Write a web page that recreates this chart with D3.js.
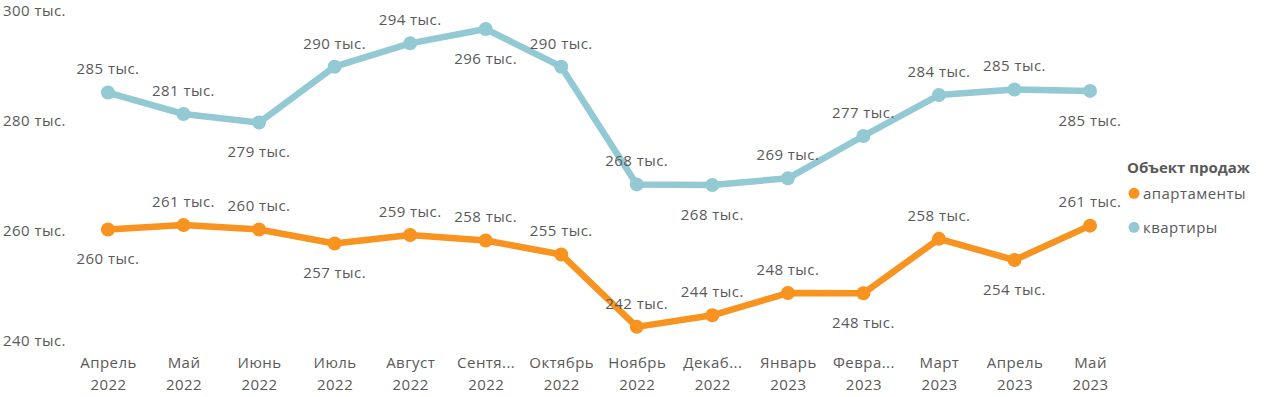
<!DOCTYPE html>
<html><head><meta charset="utf-8">
<script src="https://cdn.jsdelivr.net/npm/d3@7"></script>
<style>
html,body{margin:0;padding:0;background:#fff;}
svg{display:block;font-family:"Segoe UI","Open Sans","Noto Sans",sans-serif;}
</style></head>
<body><svg id="chart" width="1283" height="397"></svg>
<script>
const months = ["Апрель","Май","Июнь","Июль","Август","Сентя...","Октябрь","Ноябрь","Декаб...","Январь","Февра...","Март","Апрель","Май"];
const years = ["2022","2022","2022","2022","2022","2022","2022","2022","2022","2023","2023","2023","2023","2023"];
const apartmentsValues = [260.0,260.8,260.0,257.45,259.0,258.0,255.45,242.3,244.4,248.45,248.4,258.3,254.45,260.7];
const flatsValues = [284.9,281.0,279.45,289.6,293.85,296.45,289.6,268.2,268.1,269.3,277.0,284.45,285.45,285.2];
// label position: 1 = above, -1 = below
const apartmentsLabelPos = [-1,1,1,-1,1,1,1,1,1,1,-1,1,-1,1];
const flatsLabelPos = [1,1,-1,1,1,-1,1,1,-1,1,1,1,1,-1];
const yTicks = [240,260,280,300];
const seriesNames = ["апартаменты","квартиры"];
const legendTitle = "Объект продаж";
const colors = ["#F7931E","#92C9D3"];

const svg = d3.select("#chart");
const idx = d3.range(months.length);
const x = d3.scalePoint().domain(idx).range([70.2,1127.8]).padding(0.5);
const y = d3.scaleLinear().domain([240,300]).range([339.5,9.5]);
const textColor = "#595959";
const fs = 15;
const ls = "0.45px";
const ff = '"Segoe UI","Open Sans","Noto Sans",sans-serif';

// y axis
const yAxis = svg.append("g").attr("transform","translate(66,1.5)")
  .call(d3.axisLeft(y).tickValues(yTicks).tickSize(0).tickPadding(0).tickFormat(d=>d+" тыс."));
yAxis.select(".domain").remove();
yAxis.selectAll("text").attr("fill",textColor).style("font-size",fs+"px")
  .style("font-family",ff).style("letter-spacing",ls);

// x axis
const xAxis = svg.append("g").attr("transform","translate(0,352)")
  .call(d3.axisBottom(x).tickSize(0).tickPadding(0).tickFormat(()=>""));
xAxis.select(".domain").remove();
xAxis.selectAll(".tick text").each(function(d){
  const t = d3.select(this).text(null).attr("fill",textColor).style("font-size",fs+"px")
    .style("font-family",ff).style("letter-spacing",ls).attr("dy",null).attr("y",0);
  t.append("tspan").attr("x",0).attr("y",16).text(months[d]);
  t.append("tspan").attr("x",0).attr("y",38).text(years[d]);
});

const series = [
  {name:seriesNames[1], values:flatsValues, pos:flatsLabelPos, color:colors[1]},
  {name:seriesNames[0], values:apartmentsValues, pos:apartmentsLabelPos, color:colors[0]}
];
const line = d3.line().x((d,i)=>x(i)).y(d=>y(d));
series.forEach(s=>{
  const g = svg.append("g");
  g.append("path").datum(s.values).attr("d",line).attr("fill","none")
    .attr("stroke",s.color).attr("stroke-width",6.5).attr("stroke-linejoin","round").attr("stroke-linecap","round");
  g.selectAll("circle").data(s.values).join("circle")
    .attr("cx",(d,i)=>x(i)).attr("cy",d=>y(d)).attr("r",7).attr("fill",s.color);
});
series.forEach(s=>{
  svg.append("g").selectAll("text").data(s.values).join("text")
    .attr("x",(d,i)=>x(i))
    .attr("y",(d,i)=>y(d) + (s.pos[i]>0 ? -23.5 : 29.5) + 5.3)
    .attr("text-anchor","middle").attr("fill",textColor).style("font-size",fs+"px")
    .style("letter-spacing",ls)
    .text(d=>Math.round(d)+" тыс.");
});

// legend
const lg = svg.append("g").attr("transform","translate(1127,0)");
lg.append("text").attr("x",0).attr("y",172.5).attr("fill",textColor)
  .style("font-size",fs+"px").style("font-weight","bold").text(legendTitle);
const items = [{n:seriesNames[0],c:colors[0]},{n:seriesNames[1],c:colors[1]}];
items.forEach((it,i)=>{
  const cy = 193.3 + i*34;
  lg.append("circle").attr("cx",7).attr("cy",cy).attr("r",5.5).attr("fill",it.c);
  lg.append("text").attr("x",16).attr("y",cy+5.3).attr("fill",textColor).style("font-size",fs+"px")
    .style("letter-spacing",ls).text(it.n);
});
</script></body></html>
